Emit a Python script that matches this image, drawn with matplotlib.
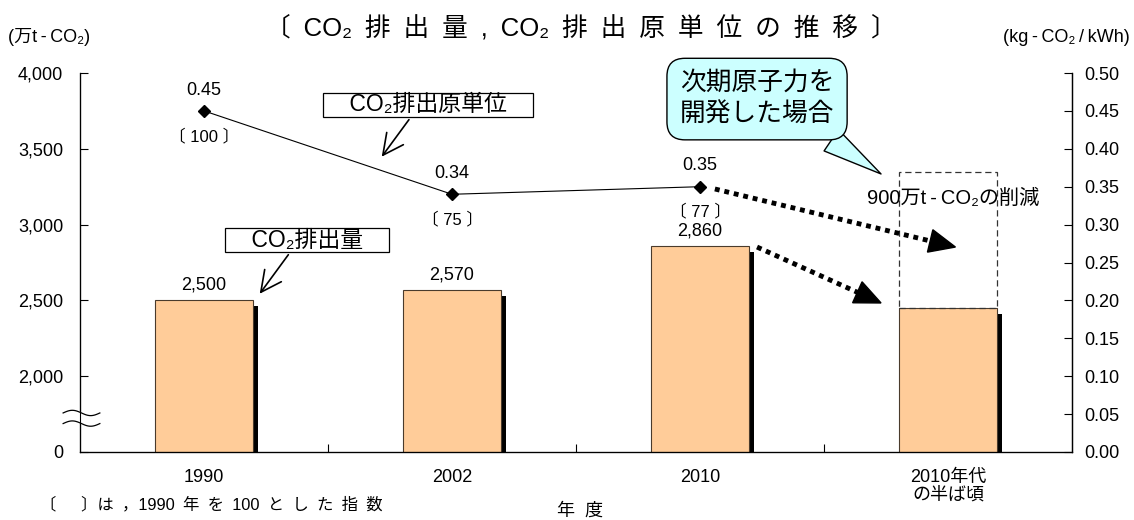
import matplotlib
matplotlib.use('Agg')
import matplotlib.pyplot as plt
import numpy as np

plt.rcParams['font.family'] = ['Liberation Sans', 'Noto Sans CJK JP', 'DejaVu Sans']

# 年度ごとの CO2 排出量 (万t-CO2) と排出原単位 (kg-CO2/kWh)
periods = ['1990', '2002', '2010', '2010年代\nの半ば頃']
emissions = [2500, 2570, 2860, 2450]
emission_labels = ['2,500', '2,570', '2,860', '']
intensity = [0.45, 0.34, 0.35]
intensity_labels = ['0.45', '0.34', '0.35']
intensity_index = ['〔 100 〕', '〔 75 〕', '〔 77 〕']
reduction = 900  # 次期原子力による削減量

left_ticks = [1500, 2000, 2500, 3000, 3500, 4000]
left_ticklabels = ['0', '2,000', '2,500', '3,000', '3,500', '4,000']
right_ticks = [0.0, 0.05, 0.10, 0.15, 0.20, 0.25, 0.30, 0.35, 0.40, 0.45, 0.50]

bar_color = '#FFCC99'
fs = 13
sp = '\u2002'

fig = plt.figure(figsize=(11.34, 5.2), dpi=100)
ax = fig.add_axes([80 / 1134, 1 - 452 / 520, 992 / 1134, 379 / 520])
x = np.arange(len(periods))
w = 0.395

ax.set_xlim(-0.5, len(periods) - 0.5)
ax.set_ylim(1500, 4000)

# 影付きの棒
ax.bar(x + 0.022, np.array(emissions) - 40, width=w, color='black', zorder=1)
ax.bar(x, emissions, width=w, color=bar_color, edgecolor='#4a3b2c', linewidth=0.8, zorder=2)
for xi, v, lab in zip(x, emissions, emission_labels):
    if lab:
        ax.annotate(lab, (xi, v), xytext=(0, 11), textcoords='offset points',
                    ha='center', va='center', fontsize=fs)

# 削減分の破線枠
last = x[-1]
ax.bar(last, reduction, bottom=emissions[-1], width=w, fill=False,
       edgecolor='#333333', linestyle=(0, (5, 3)), linewidth=0.9, zorder=3)
ax.text(last + 0.02, emissions[-1] + reduction - 175, '900万t\u2009-\u2009CO₂の削減',
        ha='center', va='center', fontsize=14.5, zorder=5)

ax.set_yticks(left_ticks)
ax.set_yticklabels(left_ticklabels, fontsize=fs)
ax.tick_params(axis='y', direction='in', length=6, pad=12, width=0.8)
ax.set_xticks([0.5, 1.5, 2.5])
ax.set_xticklabels([])
ax.set_xticks(x, minor=True)
ax.set_xticklabels(periods, minor=True, fontsize=fs)
ax.tick_params(axis='x', which='major', direction='in', length=6, width=0.8)
ax.tick_params(axis='x', which='minor', length=0, pad=12)
for lbl in ax.get_xticklabels(minor=True):
    lbl.set_linespacing(1.1)
ax.spines['top'].set_visible(False)
for s in ['left', 'right', 'bottom']:
    ax.spines[s].set_linewidth(0.9)

# 縦軸の省略記号
t = np.linspace(-0.017, 0.020, 60)
wave = 0.007 * np.sin((t + 0.017) / 0.037 * 2 * np.pi)
ax.fill_between(t, 0.075 + wave, 0.103 + wave, color='white', transform=ax.transAxes,
                clip_on=False, zorder=6)
for base in (0.075, 0.103):
    ax.plot(t, base + wave, color='black', lw=0.9, transform=ax.transAxes,
            clip_on=False, zorder=7)

# 排出原単位 (右軸)
ax2 = ax.twinx()
ax2.set_ylim(0, 0.5)
ax2.set_yticks(right_ticks)
ax2.set_yticklabels(['%.2f' % v for v in right_ticks], fontsize=fs)
ax2.tick_params(axis='y', direction='in', length=6, pad=9, width=0.8)
ax2.spines['top'].set_visible(False)
ax2.spines['right'].set_linewidth(0.9)
ax2.plot(x[:3], intensity, color='black', lw=0.8, marker='D', ms=6.5, zorder=4)
for xi, v, lab, idx in zip(x, intensity, intensity_labels, intensity_index):
    ax2.annotate(lab, (xi, v), xytext=(0, 15), textcoords='offset points',
                 ha='center', va='center', fontsize=fs)
    ax2.annotate(idx, (xi, v), xytext=(0, -18), textcoords='offset points',
                 ha='center', va='center', fontsize=12)

# 枠付きラベル
ax.annotate('    CO₂排出原単位    ', xy=(0.71, 3433), xytext=(0.903, 3789),
            ha='center', va='center', fontsize=16.5, zorder=8,
            bbox=dict(boxstyle='square,pad=0.02', fc='white', ec='black', lw=0.9),
            arrowprops=dict(arrowstyle='->,head_length=0.9,head_width=0.45',
                            color='black', lw=1.2, relpos=(0.42, 0)))
ax.annotate('    CO₂排出量    ', xy=(0.218, 2529), xytext=(0.415, 2898),
            ha='center', va='center', fontsize=16.5, zorder=8,
            bbox=dict(boxstyle='square,pad=0.02', fc='white', ec='black', lw=0.9),
            arrowprops=dict(arrowstyle='->,head_length=0.9,head_width=0.45',
                            color='black', lw=1.2, relpos=(0.4, 0)))

# 次期原子力の吹き出し
ax.annotate('次期原子力を\n開発した場合', xy=(2.73, 3334), xytext=(2.23, 3828),
            ha='center', va='center', fontsize=18.5, zorder=8, linespacing=1.4,
            bbox=dict(boxstyle='round,pad=0.5,rounding_size=0.7', fc='#CCFFFF',
                      ec='black', lw=1),
            arrowprops=dict(arrowstyle='wedge,tail_width=1.0,shrink_factor=0.5',
                            fc='#CCFFFF', ec='black', lw=1, relpos=(0.8, 0.1),
                            shrinkA=0, shrinkB=0))


def dotted_arrow(start, tip, head_len=26, head_w=23):
    """点線の軸と塗りつぶし三角の矢じり (大きさはピクセル指定)"""
    p0 = ax.transData.transform(start)
    p1 = ax.transData.transform(tip)
    u = (p1 - p0) / np.hypot(*(p1 - p0))
    n = np.array([-u[1], u[0]])
    base = p1 - u * head_len
    inv = ax.transData.inverted()
    seg = inv.transform([p0, base + u * 2])
    tri = inv.transform([p1, base + n * head_w / 2, base - n * head_w / 2])
    ax.plot(seg[:, 0], seg[:, 1], color='black', lw=3.5, linestyle=(0, (1, 1)),
            dash_capstyle='butt', zorder=8)
    ax.fill(tri[:, 0], tri[:, 1], color='black', zorder=8)


dotted_arrow((2.06, 3235), (3.03, 2852))
dotted_arrow((2.23, 2852), (2.73, 2483))

title = sp.join(['〔', 'CO₂', '排', '出', '量', ',', 'CO₂', '排', '出', '原', '単', '位',
                 'の', '推', '移', '〕'])
fig.text(581 / 1134, 1 - 28 / 520, title, ha='center', va='center', fontsize=18.5)
fig.text(8 / 1134, 1 - 37 / 520, '(万t\u2009-\u2009CO₂)', ha='left', va='center', fontsize=fs)
fig.text(1130 / 1134, 1 - 37 / 520, '(kg\u2009-\u2009CO₂\u2009/\u2009kWh)',
         ha='right', va='center', fontsize=fs)
note = sp.join(['〔　', '〕は', '，1990', '年', 'を', '100', 'と', 'し', 'た', '指', '数'])
fig.text(40 / 1134, 1 - 505 / 520, note, ha='left', va='center', fontsize=11.8)
fig.text(580 / 1134, 1 - 503 / 520, '年  度', ha='center', va='top', fontsize=13)

fig.savefig('out.png', dpi=100)
